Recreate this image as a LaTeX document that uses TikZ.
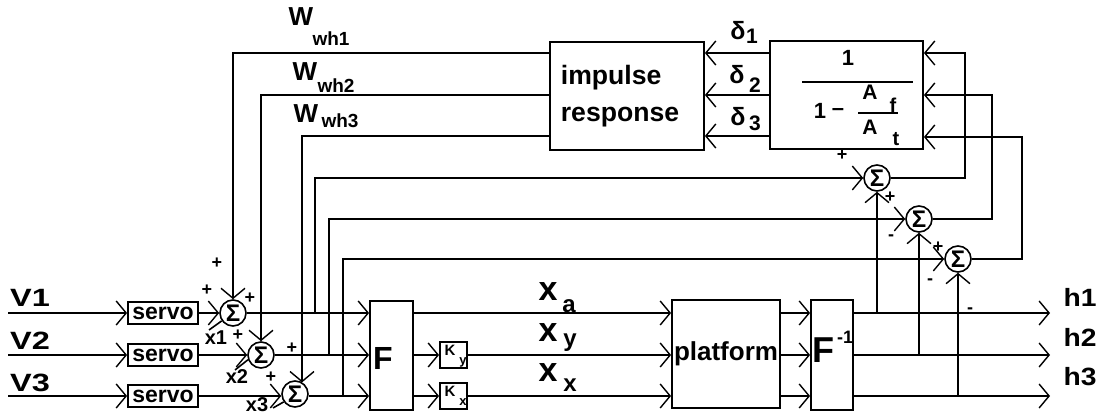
\documentclass[tikz,border=0pt]{standalone}
\usepackage{fontspec}
\setmainfont{Liberation Sans}
\usepackage{graphicx}
\usetikzlibrary{arrows.meta}
\newcommand{\fsz}[1]{\fontsize{#1}{#1}\selectfont\bfseries}
\begin{document}
\begin{tikzpicture}[x=0.5pt,y=-0.5pt,line width=0.8pt,
  chev/.style={-{Straight Barb[length=5pt,width=12pt,line width=0.7pt]}},
  box/.style={draw,rectangle,inner sep=0pt,line width=0.9pt},
  sumc/.style={draw,circle,minimum size=13pt,inner sep=0pt,font=\fsz{12}},
  lbl/.style={inner sep=0pt,font=\fsz{#1}}]
\fill[white] (0,0) rectangle (1103,415);
\useasboundingbox (0,0) rectangle (1103,415);
% rows
\coordinate (r1) at (0,313);
\coordinate (r2) at (0,355);
\coordinate (r3) at (0,396);
% blocks
\node[box,minimum width=35pt,minimum height=11pt,font=\fsz{11.5}] (sv1) at (163,313) {servo};
\node[box,minimum width=35pt,minimum height=11pt,font=\fsz{11.5}] (sv2) at (163,355) {servo};
\node[box,minimum width=35pt,minimum height=11pt,font=\fsz{11.5}] (sv3) at (163,396) {servo};
\node[sumc] (s1) at (233,313) {Σ};
\node[sumc] (s2) at (261,355) {Σ};
\node[sumc] (s3) at (295,394) {Σ};
\node[sumc] (s4) at (877,178) {Σ};
\node[sumc] (s5) at (919,219) {Σ};
\node[sumc] (s6) at (958,259) {Σ};
\node[box,minimum width=21.5pt,minimum height=54.5pt] (F) at (391.5,355.5) {};
\node[box,minimum width=13.5pt,minimum height=13pt] (Ky) at (453.5,355) {};
\node[box,minimum width=13.5pt,minimum height=13pt] (Kx) at (453.5,396) {};
\node[box,minimum width=54pt,minimum height=54pt,font=\fsz{13}] (P) at (726,354) {platform};
\node[box,minimum width=21pt,minimum height=55pt] (Fi) at (832,355) {};
\node[box,minimum width=77pt,minimum height=54pt] (imp) at (627,96) {};
\node[box,minimum width=76.5pt,minimum height=54pt] (frac) at (846.5,95) {};
% inputs
\coordinate (v1) at (8,313);
\coordinate (v2) at (8,355);
\coordinate (v3) at (8,396);
\draw[chev] (v1) -- (sv1.west);
\draw[chev] (v2) -- (sv2.west);
\draw[chev] (v3) -- (sv3.west);
\draw[chev] (sv1.east) -- (s1.west);
\draw[chev] (sv2.east) -- (s2.west);
\draw[chev] (sv3.east) -- (sv3.east -| s3.west);
\draw[chev] (s1.east) -- (s1.east -| F.west);
\draw[chev] (s2.east) -- (s2.east -| F.west);
\draw[chev] (s3.east |- r3) -- (F.west |- r3);
% W feedback
\coordinate (w1) at (233,53);
\coordinate (w2) at (261,95);
\coordinate (w3) at (302,136);
\draw[chev] (w1 -| imp.west) -- (w1) -- (s1.north);
\draw[chev] (w2 -| imp.west) -- (w2) -- (s2.north);
\draw[chev] (w3 -| imp.west) -- (w3) -- (w3 |- s3.57);
% delta lines
\draw[chev] (w1 -| frac.west) -- (w1 -| imp.east);
\draw[chev] (w2 -| frac.west) -- (w2 -| imp.east);
\draw[chev] (w3 -| frac.west) -- (w3 -| imp.east);
% taps to right sums
\coordinate (t1) at (315,313);
\coordinate (t2) at (329,355);
\coordinate (t3) at (343,396);
\draw[chev] (t1) |- (s4.west);
\draw[chev] (t2) |- (s5.west);
\draw[chev] (t3) |- (s6.west);
% sums to frac box
\coordinate (c1) at (965,53);
\coordinate (c2) at (992,95);
\coordinate (c3) at (1022,137);
\draw[chev] (s4.east) -| (c1) -- (c1 -| frac.east);
\draw[chev] (s5.east) -| (c2) -- (c2 -| frac.east);
\draw[chev] (s6.east) -| (c3) -- (c3 -| frac.east);
% F to platform
\draw[chev] (F.east |- r1) -- (P.west |- r1);
\draw[chev] (F.east |- r2) -- (Ky.west);
\draw[chev] (Ky.east) -- (P.west |- r2);
\draw[chev] (F.east |- r3) -- (Kx.west);
\draw[chev] (Kx.east) -- (P.west |- r3);
% platform to F^-1
\draw[chev] (P.east |- r1) -- (Fi.west |- r1);
\draw[chev] (P.east |- r2) -- (Fi.west |- r2);
\draw[chev] (P.east |- r3) -- (Fi.west |- r3);
% outputs
\coordinate (h1) at (1050,313);
\coordinate (h2) at (1050,355);
\coordinate (h3) at (1050,396);
\draw[chev] (Fi.east |- r1) -- (h1);
\draw[chev] (Fi.east |- r2) -- (h2);
\draw[chev] (Fi.east |- r3) -- (h3);
\coordinate (u1) at (877,313);
\coordinate (u2) at (919,355);
\coordinate (u3) at (958,396);
\draw[chev] (u1) -- (s4.south);
\draw[chev] (u2) -- (s5.south);
\draw[chev] (u3) -- (s6.south);
% x-strokes
\coordinate (x1e) at (209,330);
\coordinate (x2e) at (235,370);
\coordinate (x3e) at (273,408);
\draw (s1.215) -- (x1e);
\draw (s2.200) -- (x2e);
\draw (s3.215) -- (x3e);
% labels left
\node[lbl=12.5] (lV1) at (30,298) {\scalebox{1.3}[1]{V1}};
\node[lbl=12.5] (lV2) at (30,341) {\scalebox{1.3}[1]{V2}};
\node[lbl=12.5] (lV3) at (30,383) {\scalebox{1.3}[1]{V3}};
\node[lbl=10] (lx1) at (216,338) {x1};
\node[lbl=10] (lx2) at (237,377) {x2};
\node[lbl=10] (lx3) at (257,405) {x3};
\node[lbl=9] at (217,263) {+};
\node[lbl=9] at (207,290) {+};
\node[lbl=9] at (250,298) {+};
\node[lbl=9] at (238,335) {+};
\node[lbl=9] at (292,348) {+};
\node[lbl=9] at (271,377) {+};
% W labels
\node[lbl=13] at (301,17) {W};
\node[lbl=9.5] at (331,39) {wh1};
\node[lbl=13] at (305,72) {W};
\node[lbl=9.5] at (336,86) {wh2};
\node[lbl=13] at (306,114) {W};
\node[lbl=9.5] at (340,121) {wh3};
% impulse text
\node[lbl=13.3,align=left] at (620,96) {impulse\\[5pt]response};
% deltas
\node[lbl=12.5] at (738,31) {δ};
\node[lbl=10.5] at (752,36) {1};
\node[lbl=12.5] at (737,75) {δ};
\node[lbl=10.5] at (755,85) {2};
\node[lbl=12.5] at (738,117) {δ};
\node[lbl=10.5] at (755,123) {3};
% fraction
\node[lbl=11] at (848,58) {1};
\draw (802,82) -- (913,82);
\node[lbl=11] at (820,111) {1};
\node[lbl=11] at (838,112) {--};
\node[lbl=10.5] at (870,92) {A};
\node[lbl=10] at (893,105) {f};
\draw (858,113) -- (898,113);
\node[lbl=10.5] at (870,127) {A};
\node[lbl=10] at (896,139) {t};
% signs at right sums
\node[lbl=9] at (842,155) {+};
\node[lbl=9] at (890,197) {+};
\node[lbl=9] at (891,238) {-};
\node[lbl=9] at (938,247) {+};
\node[lbl=9] at (930,282) {-};
\node[lbl=9] at (970,311) {-};
% middle labels
\node[lbl=16] at (383,358) {F};
\node[lbl=7.5] at (450,350) {K};
\node[lbl=6.5] at (463,362) {y};
\node[lbl=7.5] at (450,391) {K};
\node[lbl=6.5] at (463,402) {x};
\node[lbl=17] at (548,292) {x};
\node[lbl=12] at (569,306) {a};
\node[lbl=17] at (548,333) {x};
\node[lbl=12] at (570,343) {y};
\node[lbl=17] at (548,373) {x};
\node[lbl=12] at (570,385) {x};
\node[lbl=18] at (823,350) {F};
\node[lbl=9] at (845,337) {-1};
% outputs labels
\node[lbl=12.5] (lh1) at (1080,297) {\scalebox{1.13}[1]{h1}};
\node[lbl=12.5] (lh2) at (1080,337) {\scalebox{1.13}[1]{h2}};
\node[lbl=12.5] (lh3) at (1080,377) {\scalebox{1.13}[1]{h3}};
\end{tikzpicture}
\end{document}
